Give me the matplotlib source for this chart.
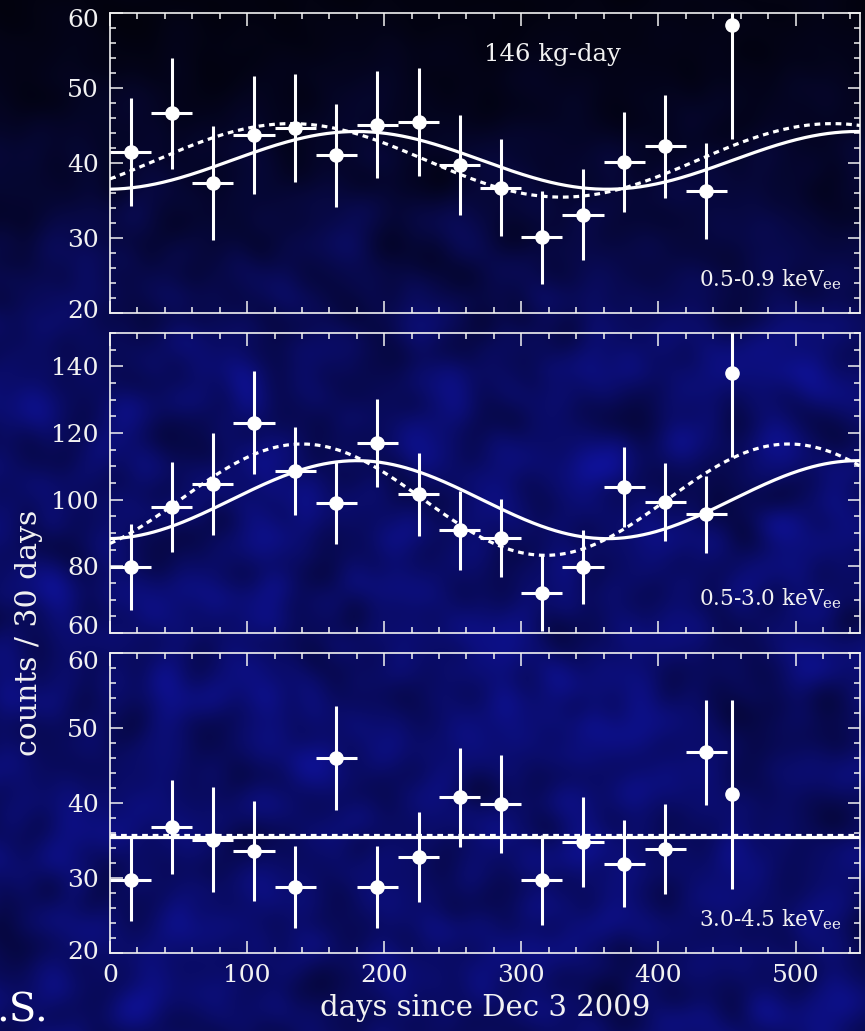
import numpy as np
import matplotlib.pyplot as plt
from matplotlib.ticker import MultipleLocator
from matplotlib.transforms import ScaledTranslation

plt.rcParams['font.family'] = 'DejaVu Serif'
plt.rcParams['mathtext.fontset'] = 'dejavuserif'

# 30-day bins since Dec 3 2009; last bin is partial
days = [15, 45, 75, 105, 135, 165, 195, 225, 255, 285, 315, 345, 375, 405, 435, 454]
day_half = [15] * 15 + [0]

low_counts = [41.5, 46.6, 37.3, 43.7, 44.6, 41.0, 45.1, 45.4, 39.7, 36.7, 30.1, 33.1, 40.1, 42.2, 36.3, 58.4]
low_err = [7.2, 7.4, 7.6, 7.9, 7.2, 6.9, 7.1, 7.2, 6.7, 6.5, 6.2, 6.1, 6.7, 6.9, 6.4, 15.2]

mid_counts = [79.8, 97.8, 104.7, 123.1, 108.6, 99.0, 116.9, 101.6, 90.8, 88.6, 72.0, 79.8, 103.7, 99.3, 95.6, 137.9]
mid_err = [13.0, 13.4, 15.3, 15.5, 13.2, 12.2, 13.2, 12.4, 11.8, 11.7, 11.3, 11.0, 12.0, 11.7, 11.5, 25.2]

high_counts = [29.8, 36.8, 35.1, 33.6, 28.8, 46.0, 28.8, 32.8, 40.8, 39.9, 29.8, 34.8, 31.9, 33.9, 46.8, 41.2]
high_err = [5.5, 6.3, 7.0, 6.7, 5.5, 6.9, 5.5, 6.0, 6.6, 6.5, 6.0, 6.0, 5.8, 6.0, 7.0, 12.6]

# modulation fits: mean + amp * cos(2 pi (t - peak) / period)
fixed_mean = [40.35, 100.0, 35.5]
fixed_amp = [3.85, 11.7, 0.0]
fixed_peak = [180, 180, 180]
fixed_period = [365.25, 365.25, 365.25]

free_mean = [40.35, 100.0, 35.8]
free_amp = [4.9, 16.7, 0.0]
free_peak = [132, 140, 0]
free_period = [395, 355, 365.25]

energy_labels = ['0.5-0.9 keV$_{\\rm ee}$', '0.5-3.0 keV$_{\\rm ee}$', '3.0-4.5 keV$_{\\rm ee}$']
ylims = [(20, 60), (60, 150), (20, 60)]
yticks = [[20, 30, 40, 50, 60], [60, 80, 100, 120, 140], [20, 30, 40, 50, 60]]
yminor = [2, 5, 2]
label_y = [23.6, 68.3, 23.5]
# pixel nudges for the end tick labels (first, last) so they sit inside the frame
end_nudge = [(4, -5.5), (7.5, 0), (3, -7)]

fg = '#f2f2f2'

fig = plt.figure(figsize=(8.65, 10.31), dpi=100)

# dark blue cloudy backdrop
h, w = 1031, 865
rs = np.random.RandomState(7)
field = rs.randn(h, w)
ky = np.fft.fftfreq(h)[:, None]
kx = np.fft.fftfreq(w)[None, :]
field = np.real(np.fft.ifft2(np.fft.fft2(field) * np.exp(-(kx**2 + ky**2) * 2 * 45**2)))
field /= field.std()
yy = np.linspace(0, 1, h)[:, None]
ramp = np.clip(yy / 0.36, 0, 1) ** 1.4
base_top = np.array([3, 3, 18]) / 255
base_bot = np.array([10, 12, 104]) / 255
bg = base_top[None, None, :] + (base_bot - base_top)[None, None, :] * ramp[:, :, None]
bg = bg * (1 + 0.13 * field[:, :, None])
bg = np.clip(bg, 0, 1)
bax = fig.add_axes([0, 0, 1, 1], zorder=-10)
bax.imshow(bg, aspect='auto', interpolation='bilinear')
bax.axis('off')

left, width = 110 / 865, 750 / 865
tops = [13, 333, 653]
t = np.linspace(0, 547, 600)
series = [(low_counts, low_err), (mid_counts, mid_err), (high_counts, high_err)]


def nudge(label, dy_px):
    label.set_transform(label.get_transform() +
                        ScaledTranslation(0, dy_px / 100, fig.dpi_scale_trans))


axes = []
for i in range(3):
    bottom = 1 - (tops[i] + 300) / 1031
    ax = fig.add_axes([left, bottom, width, 300 / 1031])
    ax.set_facecolor('none')
    axes.append(ax)
    counts, err = series[i]

    fixed = fixed_mean[i] + fixed_amp[i] * np.cos(2 * np.pi * (t - fixed_peak[i]) / fixed_period[i])
    free = free_mean[i] + free_amp[i] * np.cos(2 * np.pi * (t - free_peak[i]) / free_period[i])
    ax.plot(t, fixed, color='white', lw=2.3, zorder=3)
    ax.plot(t, free, color='white', lw=2.3, linestyle=(0, (1.8, 1.5)), zorder=3)

    ax.errorbar(days, counts, yerr=err, xerr=day_half, fmt='o', color='white',
                ms=9.5, elinewidth=2.2, capsize=0, zorder=4)

    ax.set_xlim(0, 547)
    ax.set_ylim(*ylims[i])
    ax.xaxis.set_major_locator(MultipleLocator(100))
    ax.xaxis.set_minor_locator(MultipleLocator(20))
    ax.set_yticks(yticks[i])
    ax.yaxis.set_minor_locator(MultipleLocator(yminor[i]))
    ax.tick_params(which='both', direction='in', top=True, right=True,
                   color=fg, labelcolor=fg, labelsize=18, width=1.1)
    ax.tick_params(which='major', length=9, pad=8)
    ax.tick_params(which='minor', length=4.5)
    for s in ax.spines.values():
        s.set_color(fg)
        s.set_linewidth(1.2)
    if i < 2:
        ax.tick_params(labelbottom=False)

    ticks = ax.yaxis.get_major_ticks()
    nudge(ticks[0].label1, end_nudge[i][0])
    nudge(ticks[-1].label1, end_nudge[i][1])

    ax.text(534, label_y[i], energy_labels[i], color=fg, fontsize=15.5,
            ha='right', va='baseline')

axes[0].text(273, 54.4, '146 kg-day', color=fg, fontsize=17.5, ha='left', va='center')
axes[2].set_xlabel('days since Dec 3 2009', color=fg, fontsize=21, labelpad=5)

fig.text(29 / 865, 1 - 633 / 1031, 'counts / 30 days', color=fg, fontsize=21.5,
         rotation=90, ha='center', va='center')
fig.text(-4 / 865, 1 - 1022 / 1031, '.S.', color='white', fontsize=29,
         ha='left', va='baseline')

fig.savefig('out.png', dpi=100)
